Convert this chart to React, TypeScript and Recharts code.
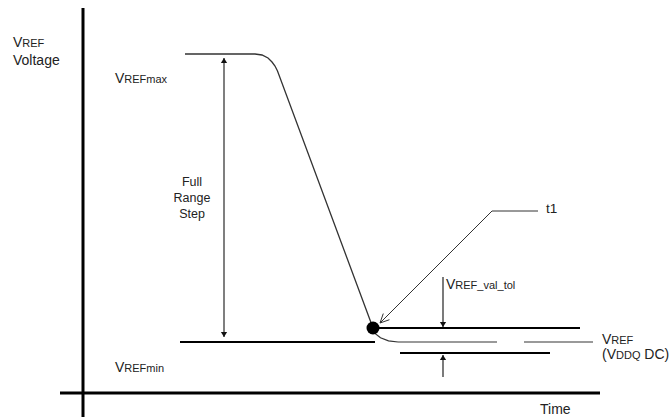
import React from 'react';
import { LineChart, Line, XAxis, YAxis, ReferenceLine, ReferenceDot } from 'recharts';

// time (arbitrary units) vs VREF (arbitrary units)
const vrefMaxEdge = [
  { t: 20.4, v: 84.75 },
  { t: 34.4, v: 84.75 },
  { t: 35.8, v: 84.5 },
  { t: 37, v: 83.75 },
  { t: 37.8, v: 82.75 },
  { t: 38.4, v: 81.75 },
  { t: 38.9, v: 80.5 },
  { t: 58, v: 16.25 },
];
const settleCurve = [
  { t: 58, v: 16.25 },
  { t: 58.4, v: 14.9 },
  { t: 59.5, v: 13.8 },
  { t: 61.1, v: 13.05 },
  { t: 63, v: 12.75 },
];
const vrefMinLevel = [{ t: 19.4, v: 12.75 }, { t: 58.4, v: 12.75 }];
const vrefTargetA = [{ t: 63, v: 12.75 }, { t: 82.8, v: 12.75 }];
const vrefTargetB = [{ t: 88.2, v: 12.75 }, { t: 102, v: 12.75 }];
const tolUpper = [{ t: 58, v: 16.25 }, { t: 99.4, v: 16.25 }];
const tolLower = [{ t: 63.4, v: 10 }, { t: 93.4, v: 10 }];
const fullRangeArrow = [{ t: 28.2, v: 83.75 }, { t: 28.2, v: 14 }];
const t1Leader = [{ t: 91, v: 45.5 }, { t: 81.8, v: 45.5 }, { t: 59.4, v: 17.5 }];
const tolDownArrow = [{ t: 72, v: 29 }, { t: 72, v: 16.5 }];
const tolUpArrow = [{ t: 72, v: 4 }, { t: 72, v: 9.5 }];
const t1Point = { t: 58, v: 16.25 };

const xAxisLine = [{ x: -4.6, y: 0 }, { x: 103.4, y: 0 }];
const yAxisLine = [{ x: 0, y: -6 }, { x: 0, y: 96.25 }];

// text: [piece, font size]
const labels = [
  { t: -14, v: 86.5, parts: [['V', 14], ['REF', 11]] },
  { t: -14, v: 82, parts: [['Voltage', 14]] },
  { t: 6.4, v: 77.5, parts: [['V', 14], ['REFmax', 11]] },
  { t: 6.4, v: 5.25, parts: [['V', 14], ['REFmin', 11]] },
  { t: 21.8, v: 51.75, parts: [['Full', 12.5]], anchor: 'middle' },
  { t: 21.8, v: 47.75, parts: [['Range', 12.5]], anchor: 'middle' },
  { t: 21.8, v: 43.75, parts: [['Step', 12.5]], anchor: 'middle' },
  { t: 72.6, v: 26, parts: [['V', 14], ['REF_val_tol', 11]] },
  { t: 92.6, v: 45, parts: [['t1', 13.5]] },
  { t: 103.8, v: 12.25, parts: [['V', 14], ['REF', 11]] },
  { t: 103.8, v: 8.5, parts: [['(V', 14], ['DDQ', 11], [' DC)', 14]] },
  { t: 91.4, v: -5.25, parts: [['Time', 14]] },
];

const FONT = '"Liberation Sans", Arial, sans-serif';

const arrowDot = (opts: { start?: boolean; end?: boolean; open?: boolean; color: string; count: number }) => {
  let prev: { x: number; y: number } | null = null;
  const head = (x: number, y: number, fx: number, fy: number, k: string) => {
    const a = Math.atan2(y - fy, x - fx);
    const len = opts.open ? 10 : 6;
    const w = opts.open ? 0.45 : 0.55;
    const p1 = [x - len * Math.cos(a - w), y - len * Math.sin(a - w)];
    const p2 = [x - len * Math.cos(a + w), y - len * Math.sin(a + w)];
    if (opts.open) {
      return (
        <polyline key={k} points={`${p1[0]},${p1[1]} ${x},${y} ${p2[0]},${p2[1]}`} fill="none" stroke={opts.color} strokeWidth={1} />
      );
    }
    return <polygon key={k} points={`${p1[0]},${p1[1]} ${x},${y} ${p2[0]},${p2[1]}`} fill={opts.color} stroke="none" />;
  };
  return (props: any) => {
    const { cx, cy, index } = props;
    const out: any[] = [];
    if (index === 0) prev = null;
    if (prev && index === 1 && opts.start) out.push(head(prev.x, prev.y, cx, cy, 's'));
    if (prev && index === opts.count - 1 && opts.end) out.push(head(cx, cy, prev.x, prev.y, 'e'));
    prev = { x: cx, y: cy };
    return <g key={`d-${index}`}>{out}</g>;
  };
};

const Note = ({ cx, cy, parts, anchor }: any) => (
  <text x={cx} y={cy} textAnchor={anchor || 'start'} fontFamily={FONT} fill="#222">
    {parts.map((p: any, i: number) => (
      <tspan key={i} fontSize={p[1]}>
        {p[0]}
      </tspan>
    ))}
  </text>
);

export default function App() {
  const seg = (data: any[], stroke: string, w: number, dot: any = false) => (
    <Line
      data={data}
      dataKey="v"
      type="linear"
      stroke={stroke}
      strokeWidth={w}
      dot={dot}
      activeDot={false}
      isAnimationActive={false}
    />
  );
  return (
    <div style={{ position: 'absolute', left: 0, top: 0, background: '#fff' }}>
      <LineChart width={671} height={419} margin={{ top: 0, right: 0, bottom: 0, left: 0 }}>
        <XAxis type="number" dataKey="t" domain={[-16.6, 117.6]} allowDataOverflow hide />
        <YAxis type="number" domain={[-6.5, 98.25]} allowDataOverflow hide />
        <ReferenceLine segment={xAxisLine} stroke="#000" strokeWidth={3} />
        <ReferenceLine segment={yAxisLine} stroke="#000" strokeWidth={3} />
        {seg(vrefMaxEdge, '#333', 1.3)}
        {seg(settleCurve, '#333', 1.2)}
        {seg(vrefMinLevel, '#000', 2)}
        {seg(vrefTargetA, '#777', 1.5)}
        {seg(vrefTargetB, '#777', 1.5)}
        {seg(tolUpper, '#000', 2)}
        {seg(tolLower, '#000', 2)}
        {seg(fullRangeArrow, '#555', 1.5, arrowDot({ start: true, end: true, color: '#111', count: 2 }))}
        {seg(t1Leader, '#333', 1, arrowDot({ end: true, open: true, color: '#333', count: 3 }))}
        {seg(tolDownArrow, '#222', 1.2, arrowDot({ end: true, color: '#111', count: 2 }))}
        {seg(tolUpArrow, '#222', 1.2, arrowDot({ end: true, color: '#111', count: 2 }))}
        <ReferenceDot x={t1Point.t} y={t1Point.v} r={6.5} fill="#000" stroke="none" />
        {labels.map((l, i) => (
          <ReferenceDot
            key={`l-${i}`}
            x={l.t}
            y={l.v}
            r={1}
            ifOverflow="visible"
            shape={(p: any) => <Note cx={p.cx} cy={p.cy} parts={l.parts} anchor={l.anchor} />}
          />
        ))}
      </LineChart>
    </div>
  );
}
